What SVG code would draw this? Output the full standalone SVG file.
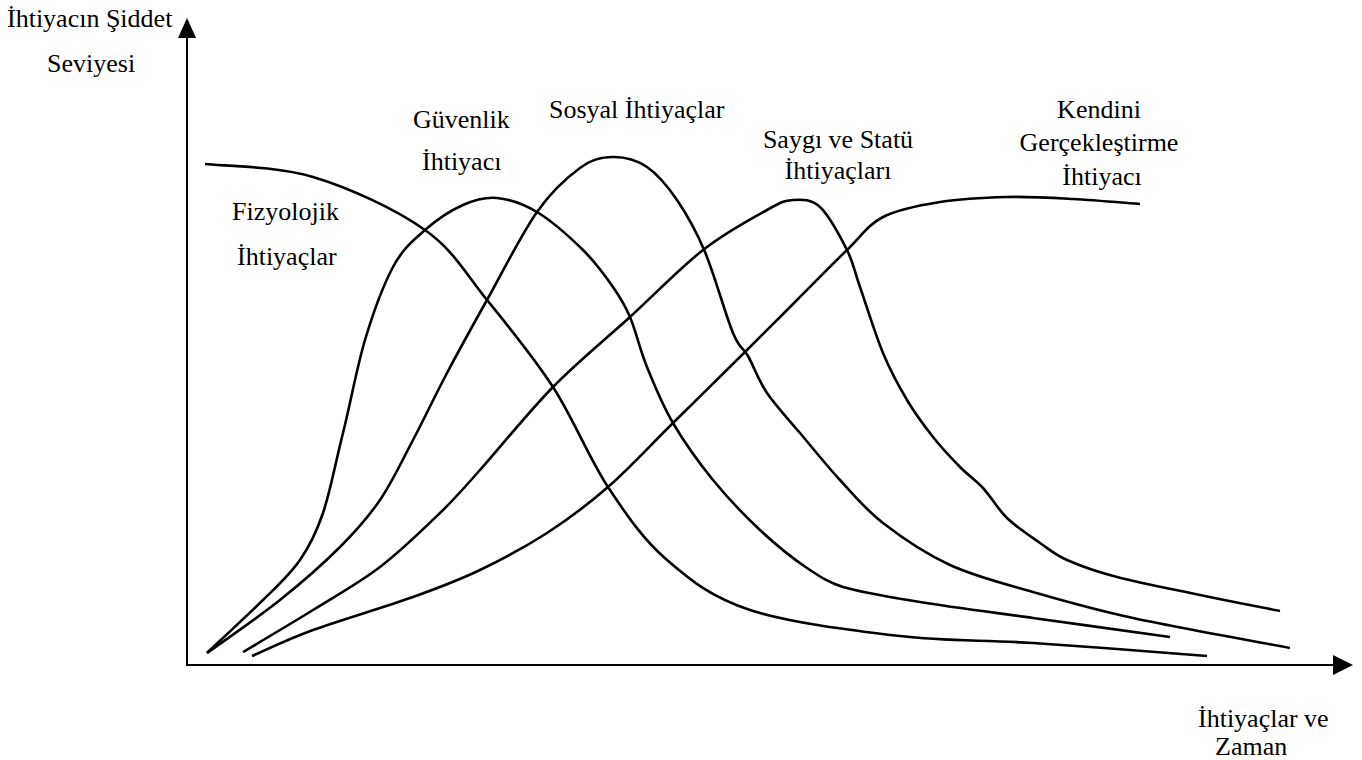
<svg xmlns="http://www.w3.org/2000/svg" width="1362" height="760" viewBox="0 0 1362 760">
  <style>
    .lbl { font-family: "Liberation Serif", "Times New Roman", serif; font-size: 26px; fill: #000; }
    .mid { text-anchor: middle; }
    .axis { stroke: #000; stroke-width: 2; fill: none; }
    .curve { stroke: #000; stroke-width: 2.6; fill: none; stroke-linecap: butt; stroke-linejoin: round; }
  </style>
  <rect width="1362" height="760" fill="#fff"/>

  <!-- axes -->
  <g id="axes">
    <line class="axis" x1="187" y1="36" x2="187" y2="666"/>
    <polygon points="187,18 178,38 196,38" fill="#000"/>
    <line class="axis" x1="186" y1="665" x2="1335" y2="665"/>
    <polygon points="1353,665 1333,655 1333,675" fill="#000"/>
  </g>

  <!-- axis titles -->
  <g id="y-title">
    <text class="lbl" x="7" y="27">İhtiyacın Şiddet</text>
    <text class="lbl" x="47" y="72">Seviyesi</text>
  </g>
  <g id="x-title">
    <text class="lbl" x="1198" y="727">İhtiyaçlar ve</text>
    <text class="lbl" x="1215" y="755">Zaman</text>
  </g>

  <!-- need curves -->
  <g id="connectors">
    <path id="fizyolojik-curve" class="curve" d="M205,164 C223,166 276,166 313,177 C350,188 396,209.5 425,230 C454,250.5 465.7,273.8 487,300 C508.3,326.2 532.8,355.8 553,387 C573.2,418.2 589,458.2 608,487 C627,515.8 643.3,539.5 667,560 C690.7,580.5 711.2,597.3 750,610 C788.8,622.7 852.8,630.5 900,636 C947.2,641.5 981.8,639.7 1033,643 C1084.2,646.3 1178,653.8 1207,656"/>
    <path id="guvenlik-curve" class="curve" d="M207,653 C216.3,644.2 247.5,615.2 263,600 C278.5,584.8 290,574.5 300,560 C310,545.5 315.8,534.2 323,513 C330.2,491.8 335.7,461.8 343,433 C350.3,404.2 356.7,367.7 365,340 C373.3,312.3 383.3,285.3 393,267 C402.7,248.7 413.3,240.3 425,230 C436.7,219.7 451,210.3 463,205 C475,199.7 484.7,196.8 497,198 C509.3,199.2 522.7,203.3 537,212 C551.3,220.7 570.3,237.5 583,250 C595.7,262.5 605.2,275.8 613,287 C620.8,298.2 624.3,303.7 630,317 C635.7,330.3 639.8,349.3 647,367 C654.2,384.7 662,404.2 673,423 C684,441.8 698.5,462.2 713,480 C727.5,497.8 744.3,515.3 760,530 C775.7,544.7 792,558 807,568 C822,578 828,582 843,587 C861.8,592.7 888.3,596.8 920,602 C951.7,607.2 991.3,612.2 1033,618 C1074.7,623.8 1147.2,633.8 1170,637"/>
    <path id="sosyal-curve" class="curve" d="M207,653 C219.2,644.2 257.8,617.7 280,600 C302.2,582.3 323.3,563.7 340,547 C356.7,530.3 367.8,517.8 380,500 C392.2,482.2 401.8,461.2 413,440 C424.2,418.8 434.7,396.3 447,373 C459.3,349.7 472,326.8 487,300 C502,273.2 521.5,234 537,212 C552.5,190 567.3,177.2 580,168 C592.7,158.8 601.8,157.2 613,157 C624.2,156.8 636.3,159.8 647,167 C657.7,174.2 667.3,185.8 677,200 C686.7,214.2 695.7,229.8 705,252 C714.3,274.2 725.8,315.7 733,333 C740.2,350.3 742.3,346 748,356 C753.7,366 758.3,380.2 767,393 C775.7,405.8 787.8,418.5 800,433 C812.2,447.5 826.2,465 840,480 C853.8,495 864.7,508.8 883,523 C901.3,537.2 925,553.5 950,565 C975,576.5 1002.5,583.2 1033,592 C1063.5,600.8 1090.2,608.7 1133,618 C1175.8,627.3 1263.8,643 1290,648"/>
    <path id="saygi-curve" class="curve" d="M243,652 C254.7,645 290.2,624.2 313,610 C335.8,595.8 358.8,583.2 380,567 C401.2,550.8 423.3,529.2 440,513 C456.7,496.8 461.2,491 480,470 C498.8,449 528,412.5 553,387 C578,361.5 605,339.8 630,317 C655,294.2 680.2,267.8 703,250 C725.8,232.2 752,218.3 767,210 C782,201.7 784.2,200.5 793,200 C801.8,199.5 811,198.7 820,207 C829,215.3 840.3,236.7 847,250 C853.7,263.3 854,269.8 860,287 C866,304.2 875.2,334.2 883,353 C890.8,371.8 898.7,386 907,400 C915.3,414 924.2,425.8 933,437 C941.8,448.2 951.7,458.5 960,467 C968.3,475.5 975.2,479.5 983,488 C990.8,496.5 997.5,508.8 1007,518 C1016.5,527.2 1030,536 1040,543 C1050,550 1054.2,554.3 1067,560 C1079.8,565.7 1094.8,571.2 1117,577 C1139.2,582.8 1172.8,589.3 1200,595 C1227.2,600.7 1266.7,608.3 1280,611"/>
    <path id="kendini-curve" class="curve" d="M252,656 C262.2,651.7 286.2,639.8 313,630 C339.8,620.2 385.2,607 413,597 C440.8,587 457.7,580.7 480,570 C502.3,559.3 525.7,546.8 547,533 C568.3,519.2 587,505.3 608,487 C629,468.7 649.8,445.8 673,423 C696.2,400.2 726.3,370.5 747,350 C767.7,329.5 780.3,316.7 797,300 C813.7,283.3 832.7,263.8 847,250 C861.3,236.2 867.5,225 883,217 C898.5,209 919.3,205.3 940,202 C960.7,198.7 984.8,197.5 1007,197 C1029.2,196.5 1050.8,197.8 1073,199 C1095.2,200.2 1128.8,203.2 1140,204"/>
  </g>

  <!-- curve labels -->
  <g id="fizyolojik">
    <text class="lbl" x="232" y="220">Fizyolojik</text>
    <text class="lbl" x="237" y="265">İhtiyaçlar</text>
  </g>
  <g id="guvenlik">
    <text class="lbl" x="413" y="128">Güvenlik</text>
    <text class="lbl" x="422" y="170">İhtiyacı</text>
  </g>
  <g id="sosyal">
    <text class="lbl" x="549" y="118">Sosyal İhtiyaçlar</text>
  </g>
  <g id="saygi">
    <text class="lbl mid" x="838" y="148">Saygı ve Statü</text>
    <text class="lbl mid" x="838" y="179">İhtiyaçları</text>
  </g>
  <g id="kendini">
    <text class="lbl mid" x="1099" y="118">Kendini</text>
    <text class="lbl mid" x="1099" y="151">Gerçekleştirme</text>
    <text class="lbl mid" x="1102" y="185">İhtiyacı</text>
  </g>
</svg>
